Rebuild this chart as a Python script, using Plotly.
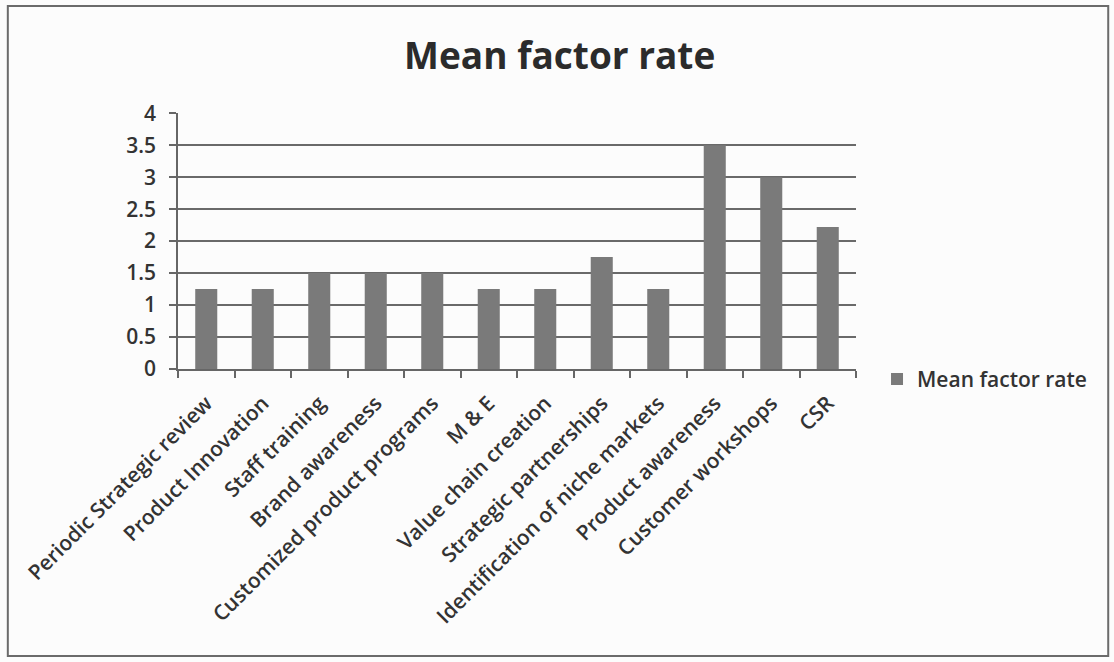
import plotly.graph_objects as go

# Factors and their mean rating
factors = [
    "Periodic Strategic review",
    "Product Innovation",
    "Staff training",
    "Brand awareness",
    "Customized product programs",
    "M & E",
    "Value chain creation",
    "Strategic partnerships",
    "Identification of niche markets",
    "Product awareness",
    "Customer workshops",
    "CSR",
]
mean_rates = [1.25, 1.25, 1.5, 1.5, 1.5, 1.25, 1.25, 1.75, 1.25, 3.5, 3.0, 2.22]
y_ticks = [0, 0.5, 1, 1.5, 2, 2.5, 3, 3.5, 4]
y_tick_text = ["0", "0.5", "1", "1.5", "2", "2.5", "3", "3.5", "4"]

FONT = "'Open Sans', sans-serif"
TEXT = "#333333"

fig = go.Figure(
    go.Bar(
        x=factors,
        y=mean_rates,
        name="Mean factor rate",
        marker=dict(color="#7a7a7a", line=dict(width=0)),
        width=0.39,
        showlegend=True,
    )
)

fig.update_layout(
    width=1114,
    height=662,
    margin=dict(l=178, r=258, t=113, b=293),
    paper_bgcolor="#fcfcfc",
    plot_bgcolor="#fcfcfc",
    font=dict(family=FONT, color=TEXT),
    title=dict(
        text="<b>Mean factor rate</b>",
        x=0.563,
        xref="paper",
        xanchor="center",
        y=0.915,
        yref="container",
        yanchor="middle",
        font=dict(size=37, family=FONT, color="#2b2b2b"),
    ),
    showlegend=True,
    legend=dict(
        x=1.031,
        xanchor="left",
        y=-0.04,
        yanchor="middle",
        font=dict(size=21, family=FONT, color=TEXT, weight=600),
        bgcolor="rgba(0,0,0,0)",
        itemwidth=30,
    ),
    bargap=0.61,
)

fig.update_xaxes(
    type="category",
    tickangle=-45,
    tickson="boundaries",
    ticks="outside",
    ticklen=7,
    tickcolor="#666666",
    tickwidth=1.5,
    showline=True,
    linecolor="#666666",
    linewidth=1.5,
    showgrid=False,
    ticklabelstandoff=12,
    tickfont=dict(size=21, family=FONT, color=TEXT, weight=600),
)

fig.update_yaxes(
    range=[0, 4.004],
    tickvals=y_ticks,
    ticktext=y_tick_text,
    ticks="outside",
    ticklen=7,
    tickcolor="#666666",
    tickwidth=1.5,
    showline=True,
    linecolor="#666666",
    linewidth=1.5,
    showgrid=True,
    gridcolor="#6a6a6a",
    gridwidth=1.5,
    zeroline=False,
    ticklabelstandoff=9,
    tickfont=dict(size=21, family=FONT, color=TEXT, weight=600),
)

# Frame around the whole chart
fig.add_shape(
    type="rect",
    xref="paper",
    yref="paper",
    x0=-0.251,
    x1=1.372,
    y0=-1.121,
    y1=1.418,
    line=dict(color="#6b6b6b", width=2),
    fillcolor="rgba(0,0,0,0)",
    layer="below",
)

fig.write_html("out.html")
